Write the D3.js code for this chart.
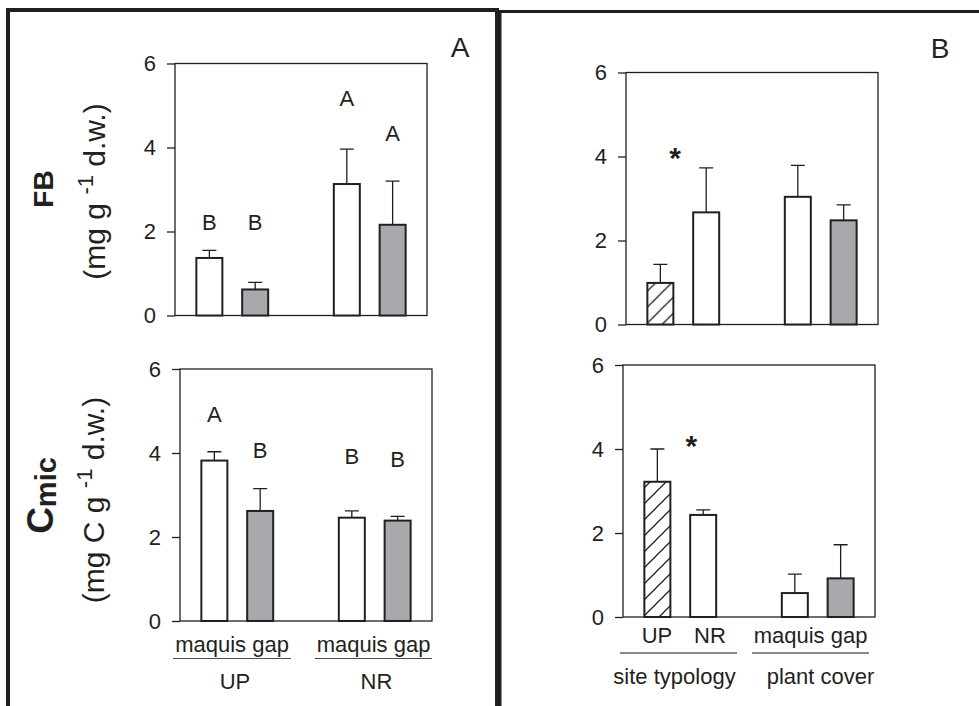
<!DOCTYPE html>
<html>
<head>
<meta charset="utf-8">
<script src="https://d3js.org/d3.v7.min.js"></script>
<style>
body { margin: 0; background: #fff; }
svg text { font-family: "Liberation Sans", Arial, sans-serif; fill: #231f20; }
</style>
</head>
<body>
<div class="figure"></div>
<script>
/*
----------------------------------------------------------
                   data
----------------------------------------------------------
*/
var slots = [0, 1, 3, 4];
var yTicks = [0, 2, 4, 6];

// panel A : site x cover
var coverLabelA = "maquis gap";
var sitesA = ["UP", "NR"];
var fillA = ["open", "grey", "open", "grey"];
var fbA = [1.37, 0.62, 3.13, 2.16];
var fbAse = [0.18, 0.17, 0.83, 1.04];
var fbAletters = ["B", "B", "A", "A"];
var fbAletterY = [2.04, 2.04, 5.0, 4.15];
var cmicA = [3.82, 2.62, 2.46, 2.39];
var cmicAse = [0.21, 0.53, 0.16, 0.10];
var cmicAletters = ["A", "B", "B", "B"];
var cmicAletterY = [4.74, 3.89, 3.74, 3.67];

// panel B : main factors
var factorsB = ["UP", "NR", "maquis gap"];
var factorGroupsB = ["site typology", "plant cover"];
var fillB = ["hatch", "open", "open", "grey"];
var fbB = [0.99, 2.67, 3.04, 2.48];
var fbBse = [0.44, 1.06, 0.75, 0.37];
var fbBstar = [0.32, 3.72];
var cmicB = [3.22, 2.43, 0.57, 0.92];
var cmicBse = [0.78, 0.12, 0.45, 0.80];
var cmicBstar = [0.74, 3.83];

/*
----------------------------------------------------------
                   helpers
----------------------------------------------------------
*/
var ink = "#231f20";
var grey = "#a7a9ac";

var svg = d3.select(".figure").append("svg")
    .attr("width", 979)
    .attr("height", 706);

var defs = svg.append("defs");
var pat = defs.append("pattern")
    .attr("id", "hatch")
    .attr("patternUnits", "userSpaceOnUse")
    .attr("width", 16)
    .attr("height", 16);
pat.append("rect").attr("width", 16).attr("height", 16).attr("fill", "#fff");
pat.append("path")
    .attr("d", "M0,16 L16,0 M-4,4 L4,-4 M12,20 L20,12")
    .attr("stroke", ink)
    .attr("stroke-width", 1.3);

function Plot(left, top) {
    var w = 252, h = 252;
    var g = svg.append("g").attr("transform", "translate(" + left + "," + top + ")");
    var x = d3.scaleLinear().domain([-0.75, 4.75]).range([0, w]);
    var y = d3.scaleLinear().domain([0, 6]).range([h, 0]);

    g.append("rect")
        .attr("width", w)
        .attr("height", h)
        .attr("fill", "none")
        .attr("stroke", ink)
        .attr("stroke-width", 1.3);

    var axis = g.append("g")
        .call(d3.axisLeft(y).tickValues(yTicks).tickSize(8).tickPadding(11).tickFormat(d3.format("d")));
    axis.select(".domain").remove();
    axis.selectAll("line").attr("stroke", ink).attr("stroke-width", 1.3);
    axis.selectAll("text")
        .attr("font-size", 22)
        .attr("fill", ink)
        .attr("font-family", "Liberation Sans, Arial, sans-serif");

    return { g: g, x: x, y: y, w: w, h: h };
}

function drawBars(plot, means, se, fills) {
    var x = plot.x, y = plot.y;
    var data = means.map(function(m, i) { return { slot: slots[i], m: m, e: se[i], fill: fills[i] }; });

    plot.g.selectAll(".err").data(data).enter()
        .append("path")
            .attr("class", "err")
            .attr("fill", "none")
            .attr("stroke", ink)
            .attr("stroke-width", 1.3)
            .attr("d", function(d) {
                var cx = x(d.slot);
                return "M" + cx + "," + y(d.m) + " V" + y(d.m + d.e) +
                       " M" + (cx - 7) + "," + y(d.m + d.e) + " H" + (cx + 7);
            });

    plot.g.selectAll(".bar").data(data).enter()
        .append("rect")
            .attr("class", "bar")
            .attr("x", function(d) { return x(d.slot) - 13; })
            .attr("width", 26)
            .attr("y", function(d) { return y(d.m); })
            .attr("height", function(d) { return y(0) - y(d.m); })
            .attr("stroke", ink)
            .attr("stroke-width", 2)
            .attr("fill", function(d) {
                if (d.fill == "grey") return grey;
                if (d.fill == "hatch") return "url(#hatch)";
                return "#fff";
            });
}

function drawLetters(plot, letters, ys) {
    plot.g.selectAll(".letter").data(letters).enter()
        .append("text")
            .attr("class", "letter")
            .attr("text-anchor", "middle")
            .attr("font-size", 22)
            .attr("x", function(d, i) { return plot.x(slots[i]); })
            .attr("y", function(d, i) { return plot.y(ys[i]); })
            .text(function(d) { return d; });
}

function drawStar(plot, star) {
    plot.g.append("text")
        .attr("text-anchor", "middle")
        .attr("font-size", 30)
        .attr("font-weight", "bold")
        .attr("x", plot.x(star[0]))
        .attr("y", plot.y(star[1]))
        .text("*");
}

function underline(plot, x1, x2, dy, color, width) {
    plot.g.append("line")
        .attr("x1", x1).attr("x2", x2)
        .attr("y1", plot.h + dy).attr("y2", plot.h + dy)
        .attr("stroke", color)
        .attr("stroke-width", width);
}

function label(plot, txt, cx, dy) {
    plot.g.append("text")
        .attr("text-anchor", "middle")
        .attr("font-size", 22)
        .attr("x", cx)
        .attr("y", plot.h + dy)
        .text(txt);
}

/*
----------------------------------------------------------
                   frames
----------------------------------------------------------
*/
svg.append("path")
    .attr("d", "M8,720 V10 H497 V720")
    .attr("fill", "none")
    .attr("stroke", ink)
    .attr("stroke-width", 4);
svg.append("path")
    .attr("d", "M500,720 V11.5 H990")
    .attr("fill", "none")
    .attr("stroke", ink)
    .attr("stroke-width", 3);

svg.append("text").attr("x", 460).attr("y", 57).attr("text-anchor", "middle")
    .attr("font-size", 28).text("A");
svg.append("text").attr("x", 940).attr("y", 58).attr("text-anchor", "middle")
    .attr("font-size", 28).text("B");

/*
----------------------------------------------------------
                   panel A
----------------------------------------------------------
*/
var aTop = Plot(175, 63.5);
drawBars(aTop, fbA, fbAse, fillA);
drawLetters(aTop, fbAletters, fbAletterY);

var aBot = Plot(180, 369);
drawBars(aBot, cmicA, cmicAse, fillA);
drawLetters(aBot, cmicAletters, cmicAletterY);

underline(aBot, -7, 111, 37.5, "#4d4d4f", 1.2);
underline(aBot, 135, 252, 37.5, "#4d4d4f", 1.2);
label(aBot, coverLabelA, 52, 30.5);
label(aBot, coverLabelA, 193.5, 30.5);
label(aBot, sitesA[0], 55, 67.5);
label(aBot, sitesA[1], 196.5, 67.5);

// y titles
var t1 = svg.append("g").attr("transform", "translate(53,189) rotate(-90)");
t1.append("text").attr("text-anchor", "middle").attr("font-size", 28)
    .attr("font-weight", "bold").text("FB");
var u1 = svg.append("text").attr("text-anchor", "middle").attr("font-size", 30)
    .attr("transform", "translate(105,191.5) rotate(-90)");
u1.append("tspan").text("(mg g ");
u1.append("tspan").attr("dy", -12).attr("font-size", 22).text("-1");
u1.append("tspan").attr("dy", 12).text(" d.w.)");

var t2 = svg.append("text").attr("text-anchor", "middle").attr("font-weight", "bold")
    .attr("transform", "translate(53,495.5) rotate(-90)");
t2.append("tspan").attr("font-size", 37).text("C");
t2.append("tspan").attr("font-size", 29).attr("dy", 3).text("mic");
var u2 = svg.append("text").attr("text-anchor", "middle").attr("font-size", 30)
    .attr("transform", "translate(104,500) rotate(-90)");
u2.append("tspan").text("(mg C g ");
u2.append("tspan").attr("dy", -12).attr("font-size", 22).text("-1");
u2.append("tspan").attr("dy", 12).text(" d.w.)");

/*
----------------------------------------------------------
                   panel B
----------------------------------------------------------
*/
var bTop = Plot(626, 72.5);
drawBars(bTop, fbB, fbBse, fillB);
drawStar(bTop, fbBstar);

var bBot = Plot(623, 365);
drawBars(bBot, cmicB, cmicBse, fillB);
drawStar(bBot, cmicBstar);

underline(bBot, -3, 114, 36, "#8a8a8c", 2);
underline(bBot, 129, 246, 36, "#8a8a8c", 2);
label(bBot, factorsB[0], 34, 26);
label(bBot, factorsB[1], 87, 26);
label(bBot, factorsB[2], 187.5, 26);
label(bBot, factorGroupsB[0], 51.5, 66.5);
label(bBot, factorGroupsB[1], 197.5, 66.5);
</script>
</body>
</html>
